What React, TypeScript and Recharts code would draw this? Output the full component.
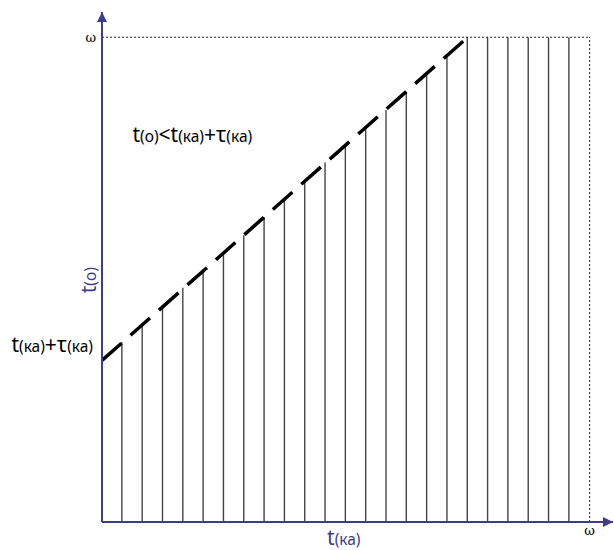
import React from 'react';
import { ComposedChart, XAxis, YAxis, Bar, Line, ReferenceLine, ReferenceDot } from 'recharts';

// hatch lines (x positions and top values)
const hatchX = [1, 2, 3, 4, 5, 6, 7, 8, 9, 10, 11, 12, 13, 14, 15, 16, 17, 18, 19, 20, 21, 22, 23];
const hatchTop = [8.9, 9.8, 10.7, 11.6, 12.4, 13.3, 14.2, 15.1, 16.0, 16.9, 17.8, 18.7, 19.6, 20.4, 21.3, 22.2, 23.1, 24, 24, 24, 24, 24, 24];
// dashed boundary t(o) = t(ka)+tau(ka)
const boundaryX = [0, 18];
const boundaryY = [8, 24];
const omega = 24;
const xMax = 25.15;
const yMax = 25.25;

const hatchData = hatchX.map((x, i) => ({ x, h: hatchTop[i] }));
const boundaryData = boundaryX.map((x, i) => ({ x, y: boundaryY[i] }));

const AXIS = '#3d3d8f';
const FONT = "'Noto Sans', 'DejaVu Sans', sans-serif";
const BIG = 21;
const SMALL = 15.5;

const UpArrow = (p: any) => (
  <polygon points={`${p.cx},${p.cy} ${p.cx - 5},${p.cy + 10} ${p.cx + 5},${p.cy + 10}`} fill={AXIS} />
);
const RightArrow = (p: any) => (
  <polygon points={`${p.cx},${p.cy} ${p.cx - 10},${p.cy - 5} ${p.cx - 10},${p.cy + 5}`} fill={AXIS} />
);

const StartLabel = (p: any) => (
  <text x={p.cx - 9} y={p.cy - 8} textAnchor="end" fontFamily={FONT} fontSize={BIG} fill="#000">
    <tspan>t</tspan>
    <tspan fontSize={SMALL}>(ка)</tspan>
    <tspan>+τ</tspan>
    <tspan fontSize={SMALL}>(ка)</tspan>
  </text>
);

const RegionLabel = (p: any) => (
  <text x={p.cx} y={p.cy} textAnchor="start" fontFamily={FONT} fontSize={BIG} fill="#000">
    <tspan>t</tspan>
    <tspan fontSize={SMALL}>(о)</tspan>
    <tspan>&lt;t</tspan>
    <tspan fontSize={SMALL}>(ка)</tspan>
    <tspan>+τ</tspan>
    <tspan fontSize={SMALL}>(ка)</tspan>
  </text>
);

const XTitle = (p: any) => (
  <text x={p.cx} y={p.cy + 23} textAnchor="middle" fontFamily={FONT} fontSize={BIG} fill={AXIS}>
    <tspan>t</tspan>
    <tspan fontSize={SMALL}>(ка)</tspan>
  </text>
);

const YTitle = (p: any) => {
  const x = p.cx - 6;
  const y = p.cy;
  return (
    <text x={x} y={y} textAnchor="middle" fontFamily={FONT} fontSize={BIG} fill={AXIS} transform={`rotate(-90, ${x}, ${y})`}>
      <tspan>t</tspan>
      <tspan fontSize={SMALL}>(о)</tspan>
    </text>
  );
};

export default function App() {
  return (
    <div style={{ position: 'absolute', left: 0, top: 0 }}>
      <ComposedChart
        width={614}
        height={550}
        data={hatchData}
        margin={{ top: 12, right: 1, bottom: 0, left: 72 }}
      >
        <XAxis
          dataKey="x"
          type="number"
          domain={[0, xMax]}
          ticks={[omega]}
          tickFormatter={() => 'ω'}
          tickLine={false}
          tickSize={0}
          tickMargin={4}
          height={28}
          axisLine={{ stroke: AXIS, strokeWidth: 2 }}
          tick={{ fill: '#000', fontFamily: "'DejaVu Serif', serif", fontSize: 13 }}
          allowDataOverflow
        />
        <YAxis
          type="number"
          domain={[0, yMax]}
          ticks={[omega]}
          tickFormatter={() => 'ω'}
          tickLine={false}
          tickSize={0}
          tickMargin={6}
          width={30}
          axisLine={{ stroke: AXIS, strokeWidth: 2 }}
          tick={{ fill: '#000', fontFamily: "'DejaVu Serif', serif", fontSize: 13 }}
          allowDataOverflow
        />
        <ReferenceLine
          segment={[{ x: 0, y: omega }, { x: omega, y: omega }]}
          stroke="#222"
          strokeDasharray="2 2"
          strokeWidth={1}
          ifOverflow="visible"
        />
        <ReferenceLine
          segment={[{ x: omega, y: 0 }, { x: omega, y: omega }]}
          stroke="#222"
          strokeDasharray="2 2"
          strokeWidth={1}
          ifOverflow="visible"
        />
        <Bar dataKey="h" barSize={1.4} fill="#444" isAnimationActive={false} />
        <Line
          data={boundaryData}
          dataKey="y"
          stroke="#000"
          strokeWidth={3.5}
          strokeDasharray="26 12"
          dot={false}
          activeDot={false}
          isAnimationActive={false}
        />
        <ReferenceDot x={0} y={yMax} r={0} shape={UpArrow} ifOverflow="visible" />
        <ReferenceDot x={xMax} y={0} r={0} shape={RightArrow} ifOverflow="visible" />
        <ReferenceDot x={0} y={8} r={0} shape={StartLabel} ifOverflow="visible" />
        <ReferenceDot x={1.5} y={18.8} r={0} shape={RegionLabel} ifOverflow="visible" />
        <ReferenceDot x={11.9} y={0} r={0} shape={XTitle} ifOverflow="visible" />
        <ReferenceDot x={0} y={11.97} r={0} shape={YTitle} ifOverflow="visible" />
      </ComposedChart>
    </div>
  );
}
